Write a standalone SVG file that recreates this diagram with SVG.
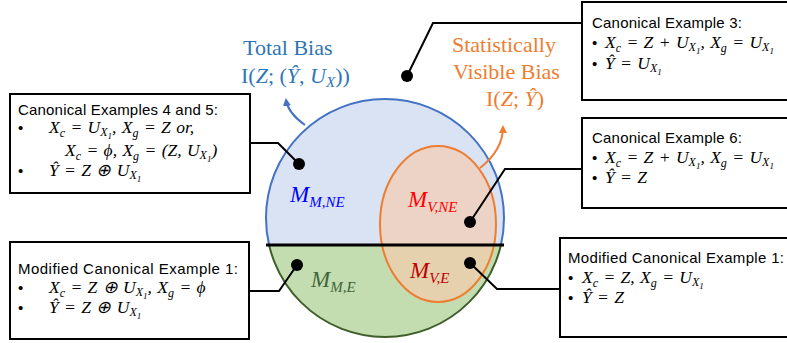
<svg xmlns="http://www.w3.org/2000/svg" width="787" height="343" viewBox="0 0 787 343">
<style>
.box{fill:#fff;stroke:#000;stroke-width:2}
.lbl{font-family:"Liberation Sans",Arial,sans-serif;font-size:15px;fill:#000}
.m{font-family:"Liberation Serif","Times New Roman",serif;font-style:italic;font-size:17.5px;fill:#000;word-spacing:1px}
.s{font-size:12px}
.ss{font-size:9px}
.con{fill:none;stroke:#000;stroke-width:2}
.dot{fill:#000}
.big{font-family:"Liberation Serif","Times New Roman",serif;font-size:22px}
.lab{font-family:"Liberation Serif","Times New Roman",serif;font-style:italic;font-size:23px}
.lsub{font-size:15px}
</style>
<defs>
<clipPath id="lower"><rect x="0" y="245" width="787" height="100"/></clipPath>
<clipPath id="upper"><rect x="0" y="0" width="787" height="245"/></clipPath>
<marker id="arB" markerWidth="8" markerHeight="8" refX="6" refY="4" orient="auto" markerUnits="userSpaceOnUse"><path d="M0,0 L8,4 L0,8 Z" fill="#4472c4"/></marker>
<marker id="arO" markerWidth="8" markerHeight="8" refX="6" refY="4" orient="auto" markerUnits="userSpaceOnUse"><path d="M0,0 L8,4 L0,8 Z" fill="#ed7d31"/></marker>
</defs>

<g id="venn">
<circle cx="385" cy="218" r="119" fill="#dae3f3" stroke="#4472c4" stroke-width="2" clip-path="url(#upper)"/>
<circle cx="385" cy="218" r="119" fill="#c3dcb0" stroke="#3f5f2a" stroke-width="2" clip-path="url(#lower)"/>
<ellipse cx="438" cy="224" rx="58" ry="78" fill="#f8cbad" fill-opacity="0.65" stroke="#ed7d31" stroke-width="2"/>
<line x1="266" y1="245" x2="504" y2="245" stroke="#000" stroke-width="3"/>
</g>

<g id="region-labels">
<text class="lab" x="290" y="202" fill="#0000ff">M<tspan class="lsub" dy="5">M,NE</tspan></text>
<text class="lab" x="408" y="207" fill="#ff0000">M<tspan class="lsub" dy="5">V,NE</tspan></text>
<text class="lab" x="311" y="287" fill="#41663a">M<tspan class="lsub" dy="5">M,E</tspan></text>
<text class="lab" x="410" y="278" fill="#c00000">M<tspan class="lsub" dy="5">V,E</tspan></text>
</g>

<g id="total-bias">
<text class="big" x="243" y="55" fill="#2e75b6">Total Bias</text>
<text class="big" x="241" y="83" fill="#2e75b6">I(<tspan font-style="italic">Z</tspan>; (<tspan font-style="italic">Ŷ</tspan>, <tspan font-style="italic">U</tspan><tspan font-style="italic" font-size="15px" dy="4">X</tspan><tspan dy="-4">))</tspan></text>
</g>
<g id="visible-bias">
<text class="big" x="452" y="52" fill="#ed7d31">Statistically</text>
<text class="big" x="453" y="79" fill="#ed7d31">Visible Bias</text>
<text class="big" x="486" y="106" fill="#ed7d31">I(<tspan font-style="italic">Z</tspan>; <tspan font-style="italic">Ŷ</tspan>)</text>
</g>

<g id="connectors">
<path class="con" d="M407,76 L433,23 L583,23"/>
<path class="con" d="M299,164 L278,143 L250,143"/>
<path class="con" d="M470,222 L505,169 L582,169"/>
<path class="con" d="M297,265 L279,291 L249,291"/>
<path class="con" d="M470,263 L497,289 L560,289"/>
<path d="M305,125 Q288,113 286,100" fill="none" stroke="#4472c4" stroke-width="2" marker-end="url(#arB)"/>
<path d="M480,168 Q503,150 503,127" fill="none" stroke="#ed7d31" stroke-width="2" marker-end="url(#arO)"/>
<circle class="dot" cx="407" cy="76" r="6"/>
<circle class="dot" cx="299" cy="164" r="6"/>
<circle class="dot" cx="470" cy="222" r="6"/>
<circle class="dot" cx="297" cy="265" r="6"/>
<circle class="dot" cx="470" cy="263" r="6"/>
</g>

<g id="box-ex45">
<rect class="box" x="10" y="94" width="240" height="99"/>
<text class="lbl" x="18" y="115" textLength="200">Canonical Examples 4 and 5:</text>
<text class="lbl" x="18" y="133">•</text>
<text class="m" x="49" y="133">X<tspan class="s" dy="4">c</tspan><tspan dy="-4"> = U</tspan><tspan class="s" dy="3">X</tspan><tspan class="ss" dy="3">1</tspan><tspan dy="-6">, X</tspan><tspan class="s" dy="4">g</tspan><tspan dy="-4"> = Z or,</tspan></text>
<text class="m" x="65" y="156">X<tspan class="s" dy="4">c</tspan><tspan dy="-4"> = ϕ, X</tspan><tspan class="s" dy="4">g</tspan><tspan dy="-4"> = (Z, U</tspan><tspan class="s" dy="3">X</tspan><tspan class="ss" dy="3">1</tspan><tspan dy="-6">)</tspan></text>
<text class="lbl" x="18" y="176">•</text>
<text class="m" x="49" y="176">Ŷ = Z ⊕ U<tspan class="s" dy="3">X</tspan><tspan class="ss" dy="3">1</tspan></text>
</g>

<g id="box-mod1-left">
<rect class="box" x="10" y="242" width="239" height="97"/>
<text class="lbl" x="18" y="274" textLength="220">Modified Canonical Example 1:</text>
<text class="lbl" x="18" y="293">•</text>
<text class="m" x="49" y="293">X<tspan class="s" dy="4">c</tspan><tspan dy="-4"> = Z ⊕ U</tspan><tspan class="s" dy="3">X</tspan><tspan class="ss" dy="3">1</tspan><tspan dy="-6">, X</tspan><tspan class="s" dy="4">g</tspan><tspan dy="-4"> = ϕ</tspan></text>
<text class="lbl" x="18" y="313">•</text>
<text class="m" x="49" y="313">Ŷ = Z ⊕ U<tspan class="s" dy="3">X</tspan><tspan class="ss" dy="3">1</tspan></text>
</g>

<g id="box-ex3">
<rect class="box" x="582" y="2" width="220" height="98"/>
<text class="lbl" x="592" y="28" textLength="150">Canonical Example 3:</text>
<text class="lbl" x="592" y="48">•</text>
<text class="m" x="605" y="48">X<tspan class="s" dy="4">c</tspan><tspan dy="-4"> = Z + U</tspan><tspan class="s" dy="3">X</tspan><tspan class="ss" dy="3">1</tspan><tspan dy="-6">, X</tspan><tspan class="s" dy="4">g</tspan><tspan dy="-4"> = U</tspan><tspan class="s" dy="3">X</tspan><tspan class="ss" dy="3">1</tspan></text>
<text class="lbl" x="592" y="69">•</text>
<text class="m" x="605" y="69">Ŷ = U<tspan class="s" dy="3">X</tspan><tspan class="ss" dy="3">1</tspan></text>
</g>

<g id="box-ex6">
<rect class="box" x="582" y="118" width="220" height="90"/>
<text class="lbl" x="592" y="143" textLength="150">Canonical Example 6:</text>
<text class="lbl" x="592" y="163">•</text>
<text class="m" x="605" y="163">X<tspan class="s" dy="4">c</tspan><tspan dy="-4"> = Z + U</tspan><tspan class="s" dy="3">X</tspan><tspan class="ss" dy="3">1</tspan><tspan dy="-6">, X</tspan><tspan class="s" dy="4">g</tspan><tspan dy="-4"> = U</tspan><tspan class="s" dy="3">X</tspan><tspan class="ss" dy="3">1</tspan></text>
<text class="lbl" x="592" y="183">•</text>
<text class="m" x="605" y="183">Ŷ = Z</text>
</g>

<g id="box-mod1-right">
<rect class="box" x="560" y="238" width="242" height="99"/>
<text class="lbl" x="568" y="263" textLength="216">Modified Canonical Example 1:</text>
<text class="lbl" x="568" y="283">•</text>
<text class="m" x="582" y="283">X<tspan class="s" dy="4">c</tspan><tspan dy="-4"> = Z, X</tspan><tspan class="s" dy="4">g</tspan><tspan dy="-4"> = U</tspan><tspan class="s" dy="3">X</tspan><tspan class="ss" dy="3">1</tspan></text>
<text class="lbl" x="568" y="303">•</text>
<text class="m" x="582" y="303">Ŷ = Z</text>
</g>
</svg>
